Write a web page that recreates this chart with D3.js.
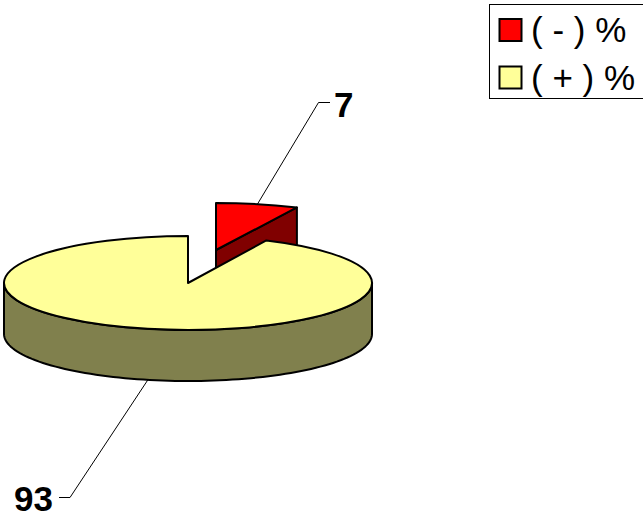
<!DOCTYPE html>
<html>
<head>
<meta charset="utf-8">
<script src="https://cdn.jsdelivr.net/npm/d3@7"></script>
<style>
  html, body { margin: 0; padding: 0; background: #fff; }
  svg { display: block; }
  text { font-family: "Liberation Sans", Arial, sans-serif; fill: #000; }
</style>
</head>
<body>
<div id="chart"></div>
<script>
// data
const categories = ["( - ) %", "( + ) %"];
const values = [7, 93];
const topColors = ["#ff0000", "#ffff99"];
const sideColors = ["#800000", "#80804d"];

const width = 643;
const height = 520;

// pie geometry, squashed to look 3d
const cx = 188, cy = 283;
const rx = 184, ry = 47;
const depth = 51;

// the small slice is pulled out of the pie and is a bit wider
const explode = { dx: 28, dy: -33 };
const redRx = 190;
const edge = 2;

const svg = d3.select("#chart")
  .append("svg")
  .attr("width", width)
  .attr("height", height)
  .attr("viewBox", [0, 0, width, height]);

const slices = d3.pie().sort(null)(values);
const arc = d3.arc().innerRadius(0);

// point on the ellipse, angle 0 is 12 o'clock like d3.arc
function rim(a, x0, y0, r) {
  return [x0 + r * Math.sin(a), y0 - ry * Math.cos(a)];
}
const line = d3.line();

const red = slices[0], yellow = slices[1];
const redX = cx + explode.dx, redY = cy + explode.dy;

// cut face of the red slice, yellow covers its lower part
const redEdge = rim(red.endAngle, redX, redY, redRx);
svg.append("path")
  .attr("d", line([[redX, redY], redEdge, [redEdge[0], redEdge[1] + depth], [redX, redY + depth]]) + "Z")
  .attr("fill", sideColors[0])
  .attr("stroke", "#000")
  .attr("stroke-width", edge)
  .attr("stroke-linejoin", "round");

// top of the red slice
svg.append("path")
  .attr("d", arc({ startAngle: red.startAngle, endAngle: red.endAngle, outerRadius: redRx }))
  .attr("transform", `translate(${redX},${redY}) scale(1,${ry / redRx})`)
  .attr("fill", topColors[0])
  .attr("stroke", "#000")
  .attr("stroke-width", edge)
  .attr("stroke-linejoin", "round")
  .attr("vector-effect", "non-scaling-stroke");

// outer wall of the yellow slice, front half only
const front = d3.range(Math.PI / 2, 3 * Math.PI / 2 + 0.001, Math.PI / 90).map(a => rim(a, cx, cy, rx));
const wall = front.concat(front.slice().reverse().map(p => [p[0], p[1] + depth]));
svg.append("path")
  .attr("d", line(wall) + "Z")
  .attr("fill", sideColors[1])
  .attr("stroke", "#000")
  .attr("stroke-width", edge)
  .attr("stroke-linejoin", "round");

// top of the yellow slice
svg.append("path")
  .attr("d", arc({ startAngle: yellow.startAngle, endAngle: yellow.endAngle, outerRadius: rx }))
  .attr("transform", `translate(${cx},${cy}) scale(1,${ry / rx})`)
  .attr("fill", topColors[1])
  .attr("stroke", "#000")
  .attr("stroke-width", edge)
  .attr("stroke-linejoin", "round")
  .attr("vector-effect", "non-scaling-stroke");

// leader lines start from the middle of each slice
const midRed = (red.startAngle + red.endAngle) / 2;
const midYellow = (yellow.startAngle + yellow.endAngle) / 2;
const redAnchor = rim(midRed, redX, redY, redRx);
const yellowAnchor = rim(midYellow, cx, cy, rx);
yellowAnchor[1] += depth;

svg.append("path")
  .attr("d", line([redAnchor, [318.5, 102.5], [330, 102.5]]))
  .attr("fill", "none")
  .attr("stroke", "#000");
svg.append("path")
  .attr("d", line([yellowAnchor, [70, 497.5], [59, 497.5]]))
  .attr("fill", "none")
  .attr("stroke", "#000");

svg.append("text")
  .attr("x", 334)
  .attr("y", 117)
  .attr("font-size", 35)
  .attr("font-weight", "bold")
  .text(values[0]);
svg.append("text")
  .attr("x", 14)
  .attr("y", 511)
  .attr("font-size", 35)
  .attr("font-weight", "bold")
  .text(values[1]);

// legend
const legendY = d3.scalePoint().domain(categories).range([30, 77.5]);
const legend = svg.append("g");
legend.append("rect")
  .attr("x", 489.5)
  .attr("y", 4.5)
  .attr("width", 160)
  .attr("height", 94)
  .attr("fill", "#fff")
  .attr("stroke", "#000");
legend.selectAll("rect.swatch")
  .data(categories)
  .join("rect")
  .attr("class", "swatch")
  .attr("x", 499.5)
  .attr("y", d => legendY(d) - 11)
  .attr("width", 22)
  .attr("height", 22)
  .attr("fill", (d, i) => topColors[i])
  .attr("stroke", "#000")
  .attr("stroke-width", edge);
legend.selectAll("text")
  .data(categories)
  .join("text")
  .attr("x", 531)
  .attr("y", d => legendY(d) + 12)
  .attr("font-size", 35)
  .style("white-space", "pre")
  .text(d => d);
</script>
</body>
</html>
